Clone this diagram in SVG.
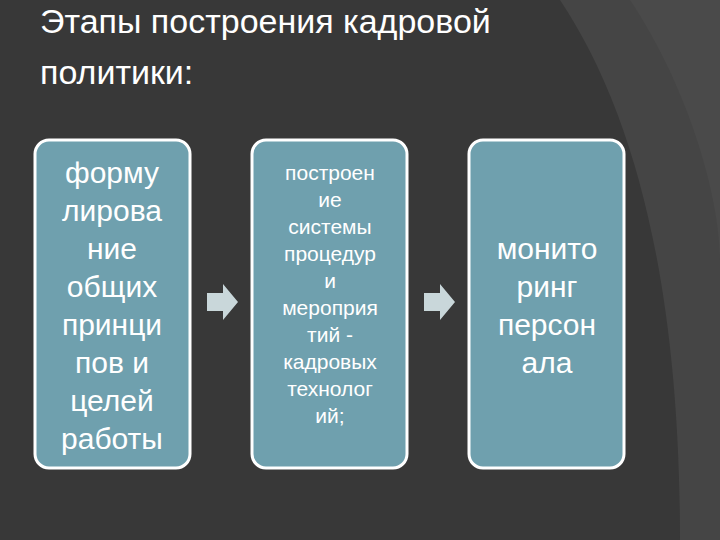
<svg xmlns="http://www.w3.org/2000/svg" width="720" height="540" viewBox="0 0 720 540">
<style>
.box{fill:#6fa0ae;stroke:#ffffff;stroke-width:3}
.t{font-family:"Liberation Sans",Arial,sans-serif;fill:#ffffff;text-anchor:middle}
.big{font-size:30px}
.sm{font-size:21px}
.arr{fill:#c9d7da}
</style>
<rect width="720" height="540" fill="#383838"/>
<path d="M560,0 C640,120 680,300 680,540 L720,540 L720,0 Z" fill="#454545"/>
<path d="M630,0 C690,90 720,200 720,260 L720,0 Z" fill="#4a4a4a"/>
<text x="40" y="33" font-family="Liberation Sans,Arial,sans-serif" font-size="34" fill="#ffffff">Этапы построения кадровой</text>
<text x="40" y="84" font-family="Liberation Sans,Arial,sans-serif" font-size="34" fill="#ffffff">политики:</text>
<g id="connectors">
<path class="arr" d="M207,293 H223 V284 L238,302 L223,320 V311 H207 Z"/>
<path class="arr" d="M424,293 H440 V284 L455,302 L440,320 V311 H424 Z"/>
</g>
<g id="node1">
<rect class="box" x="35" y="140" width="155" height="328" rx="14"/>
<text class="t big"><tspan x="112" y="183">форму</tspan><tspan x="112" y="221">лирова</tspan><tspan x="112" y="259">ние</tspan><tspan x="112" y="297">общих</tspan><tspan x="112" y="335">принци</tspan><tspan x="112" y="373">пов и</tspan><tspan x="112" y="411">целей</tspan><tspan x="112" y="449">работы</tspan></text>
</g>
<g id="node2">
<rect class="box" x="252" y="140" width="155" height="328" rx="14"/>
<text class="t sm"><tspan x="330" y="180">построен</tspan><tspan x="330" y="207">ие</tspan><tspan x="330" y="234">системы</tspan><tspan x="330" y="261">процедур</tspan><tspan x="330" y="288">и</tspan><tspan x="330" y="315">мероприя</tspan><tspan x="330" y="342">тий -</tspan><tspan x="330" y="369">кадровых</tspan><tspan x="330" y="396">технолог</tspan><tspan x="330" y="423">ий;</tspan></text>
</g>
<g id="node3">
<rect class="box" x="469" y="140" width="155" height="328" rx="14"/>
<text class="t big"><tspan x="547" y="259">монито</tspan><tspan x="547" y="297">ринг</tspan><tspan x="547" y="335">персон</tspan><tspan x="547" y="373">ала</tspan></text>
</g>
</svg>
